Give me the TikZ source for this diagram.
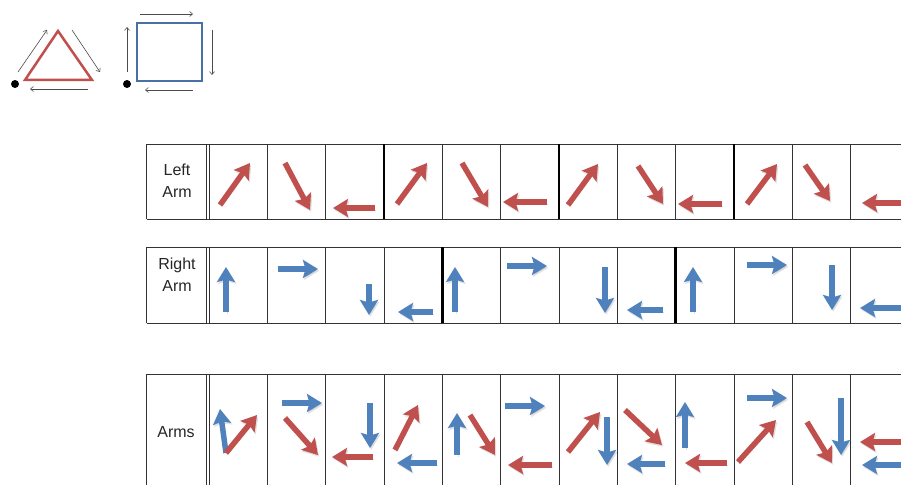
\documentclass[tikz,border=0pt]{standalone}
\usepackage{fontspec}
\setmainfont{Liberation Sans}
\usetikzlibrary{arrows.meta}

\begin{document}
\begin{tikzpicture}[x=1pt, y=-1pt,
    armArrow/.style={line width=5.5pt, -{Stealth[length=15pt,width=18pt,inset=2.5pt]},
        preaction={draw=black, opacity=0.12, transform canvas={shift={(1.2pt,-1.8pt)}}}},
    thinArrow/.style={draw=black!70, line width=0.6pt, -{Straight Barb[length=3pt,width=5pt]}},
    gridLine/.style={draw=black!80, line width=0.8pt},
    sepLine/.style={draw=black, line width=2.8pt},
    armLabel/.style={align=center, font=\fontsize{16}{22}\selectfont, text=black!85}]

    % Define colours
    \definecolor{leftColour}{HTML}{C0504D}
    \definecolor{rightColour}{HTML}{4F81BD}
    \definecolor{squareColour}{HTML}{4A6FA5}

    % Define cell sizes
    \def\cellW{58.33}
    \def\firstX{209}

    \clip (0,0) rectangle (901,484);

    % Draw legend triangle
    \draw[leftColour, line width=2.5pt] (25,80) -- (58,31) -- (92,80) -- cycle;
    \fill (15,84) circle[radius=4pt];
    \draw[thinArrow] (18,72) -- (47,30);
    \draw[thinArrow] (72,30) -- (100,72);
    \draw[thinArrow] (88,89) -- (30,89);

    % Draw legend square
    \draw[squareColour, line width=2.5pt] (137,23) rectangle (202,81);
    \fill (127,84) circle[radius=4pt];
    \draw[thinArrow] (127,72) -- (127,27);
    \draw[thinArrow] (140,14) -- (193,14);
    \draw[thinArrow] (212,30) -- (212,75);
    \draw[thinArrow] (193,90) -- (145,90);

    % Draw table rows
    \foreach \top/\bot in {144/219, 247/323, 374/490} {
        \draw[gridLine] (146.5,\top) -- (901,\top);
        \draw[gridLine] (146.5,\bot) -- (901,\bot);
        \draw[gridLine] (146.5,\top) -- (146.5,\bot);
        \draw[gridLine] (206.5,\top) -- (206.5,\bot);
        \foreach \i in {0,...,11}
            \draw[gridLine] (\firstX+\i*\cellW,\top) -- (\firstX+\i*\cellW,\bot);
    }

    % Thick separators
    \foreach \i in {3,6,9}
        \draw[sepLine] (\firstX+\i*\cellW,144) -- (\firstX+\i*\cellW,219);
    \foreach \i in {4,8}
        \draw[sepLine] (\firstX+\i*\cellW,247) -- (\firstX+\i*\cellW,323);

    % Row labels
    \node[armLabel] (leftLabel) at (177,181) {Left\\Arm};
    \node[armLabel] (rightLabel) at (177,275) {Right\\Arm};
    \node[armLabel] (armsLabel) at (176,432) {Arms};

    % Left arm arrows
    \foreach \xa/\ya/\xb/\yb in {220/205/250/163, 285/163/310/210, 375/208/333/208,
        397/204/427/163, 462/163/488/207, 547/202/503/202,
        568/205/598/164, 638/166/663/204, 722/204/678/204,
        747/204/777/164, 805/165/830/201, 908/203/862/203}
        \draw[armArrow, leftColour] (\xa,\ya) -- (\xb,\yb);

    % Right arm arrows
    \foreach \xa/\ya/\xb/\yb in {226/312/226/267, 278/269/318/269, 369/284/369/315,
        433/312/398/312, 455/312/455/267, 507/266/547/266,
        605/267/605/313, 663/310/627/310, 693/312/693/267,
        747/265/787/265, 832/265/832/310, 906/308/860/308}
        \draw[armArrow, rightColour] (\xa,\ya) -- (\xb,\yb);

    % Both arms
    \foreach \xa/\ya/\xb/\yb in {226/453/220/409, 282/403/322/403, 370/403/370/448,
        437/463/397/463, 457/455/457/413, 505/406/545/406,
        607/417/607/465, 665/464/627/464, 685/448/685/402,
        747/398/787/398, 841/398/841/455, 906/465/862/465}
        \draw[armArrow, rightColour] (\xa,\ya) -- (\xb,\yb);
    \foreach \xa/\ya/\xb/\yb in {226/453/257/415, 285/418/318/455, 373/457/332/457,
        395/450/418/405, 470/415/495/455, 552/465/508/465,
        568/452/600/412, 625/410/662/445, 727/463/685/463,
        738/462/776/420, 807/422/832/463, 906/442/860/442}
        \draw[armArrow, leftColour] (\xa,\ya) -- (\xb,\yb);

\end{tikzpicture}
\end{document}
